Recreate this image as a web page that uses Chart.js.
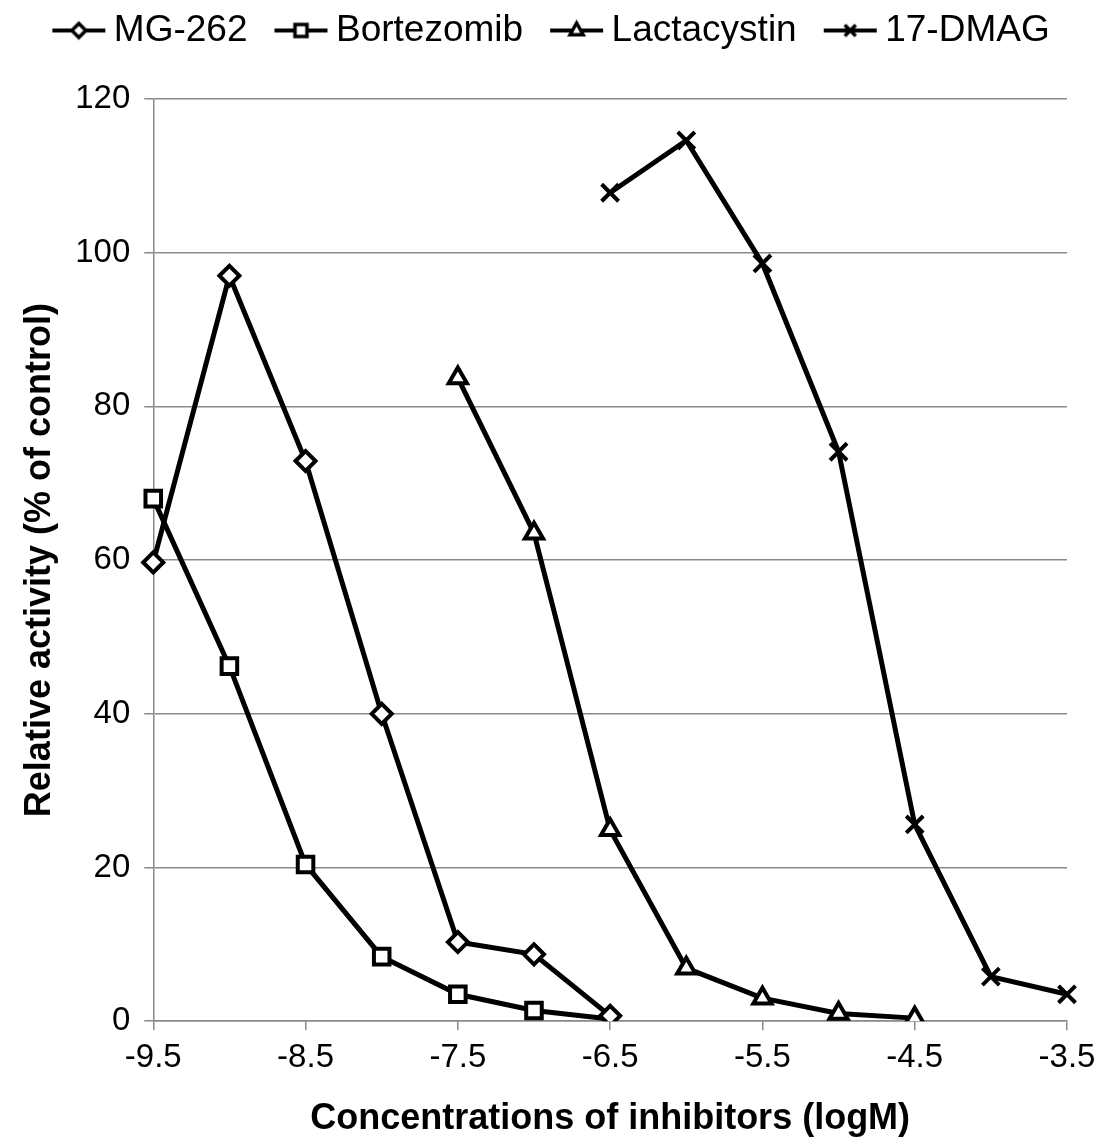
<!DOCTYPE html>
<html>
<head>
<meta charset="utf-8">
<script src="https://cdn.jsdelivr.net/npm/chart.js@4/dist/chart.umd.min.js"></script>
<style>
body{margin:0;background:#fff;}
#wrap{width:1114px;height:1141px;position:relative;}
</style>
</head>
<body>
<div id="wrap"><canvas id="chart"></canvas></div>
<script>
// x categories (log M), labelled every second one
const xLabels = ['-9.5','-9','-8.5','-8','-7.5','-7','-6.5','-6','-5.5','-5','-4.5','-4','-3.5'];
const yTicks = [0,20,40,60,80,100,120];

const seriesNames = ['MG-262','Bortezomib','Lactacystin','17-DMAG'];

const mg262 =      [59.7, 97.0, 72.9, 40.0, 10.3, 8.7, 0.7, null, null, null, null, null, null];
const bortezomib = [68.0, 46.2, 20.4, 8.4, 3.5, 1.4, 0.3, null, null, null, null, null, null];
const lactacystin =[null, null, null, null, 83.7, 63.5, 24.9, 6.9, 3.0, 1.0, 0.4, null, null];
const dmag17 =     [null, null, null, null, null, null, 107.8, 114.6, 98.6, 74.1, 25.6, 5.8, 3.5];

const FONT = "'Liberation Sans', Arial, sans-serif";
const GRID = '#8a8a8a';
const LEGEND_EXTRA = 40;

// draw a marker shape on a 2d context
function drawMarker(ctx, kind, cx, cy, r){
ctx.beginPath();
if(kind==='diamond'){
ctx.moveTo(cx, cy-r);
ctx.lineTo(cx+r, cy);
ctx.lineTo(cx, cy+r);
ctx.lineTo(cx-r, cy);
ctx.closePath();
ctx.fill();
ctx.stroke();
}
else if(kind==='square'){
ctx.rect(cx-r, cy-r, 2*r, 2*r);
ctx.fill();
ctx.stroke();
}
else if(kind==='triangle'){
ctx.moveTo(cx, cy-r);
ctx.lineTo(cx+r*0.87, cy+r*0.55);
ctx.lineTo(cx-r*0.87, cy+r*0.55);
ctx.closePath();
ctx.fill();
ctx.stroke();
}
else{
ctx.moveTo(cx-r, cy-r);
ctx.lineTo(cx+r, cy+r);
ctx.moveTo(cx+r, cy-r);
ctx.lineTo(cx-r, cy+r);
ctx.stroke();
}
}

// legend icon: short line with the marker on it, drawn in the right part
// of a wider transparent canvas so the items get Excel-like spacing
function legendIcon(kind, r){
const c = document.createElement('canvas');
c.width = 88;
c.height = 28;
const ctx = c.getContext('2d');
ctx.strokeStyle = '#000';
ctx.fillStyle = '#fff';
ctx.lineWidth = 4;
ctx.beginPath();
ctx.moveTo(31, 14);
ctx.lineTo(84, 14);
ctx.stroke();
ctx.lineWidth = 3.5;
drawMarker(ctx, kind, 57.5, 14, r);
return c;
}

const icons = [
legendIcon('diamond', 7),
legendIcon('square', 6),
legendIcon('triangle', 7.5),
legendIcon('cross', 5.5)
];

function lineSet(label, data, style, radius){
return {
label: label,
data: data,
borderColor: '#000',
backgroundColor: '#fff',
borderWidth: 5,
pointStyle: style,
pointRadius: radius,
pointBorderWidth: 4,
pointBorderColor: '#000',
pointBackgroundColor: '#fff',
pointHoverRadius: radius,
tension: 0,
spanGaps: false
};
}

const bortSet = lineSet(seriesNames[1], bortezomib, 'rect', 11);
// last bortezomib point has no visible marker
bortSet.pointRadius = ctx => ctx.dataIndex === 6 ? 0 : 11;

// push the plot down under the legend
const legendGap = {
id: 'legendGap',
beforeInit(chart){
const fit = chart.legend.fit;
chart.legend.fit = function(){
fit.bind(chart.legend)();
this.height += LEGEND_EXTRA;
};
}
};

new Chart(document.getElementById('chart'), {
type: 'line',
data: {
labels: xLabels,
datasets: [
lineSet(seriesNames[0], mg262, 'rectRot', 10),
bortSet,
lineSet(seriesNames[2], lactacystin, 'triangle', 10.5),
lineSet(seriesNames[3], dmag17, 'crossRot', 12)
]
},
plugins: [legendGap],
options: {
responsive: true,
maintainAspectRatio: false,
animation: false,
layout: {
padding: {top: 2, left: 18, right: 47, bottom: 0}
},
plugins: {
legend: {
display: true,
position: 'top',
labels: {
usePointStyle: true,
pointStyleWidth: 60,
padding: 10,
color: '#000',
font: {family: FONT, size: 37},
generateLabels: function(chart){
return chart.data.datasets.map((ds, i) => ({
text: ds.label,
pointStyle: icons[i],
datasetIndex: i,
fontColor: '#000',
hidden: false,
lineWidth: 0,
strokeStyle: 'transparent',
fillStyle: 'transparent'
}));
}
}
},
tooltip: {enabled: false}
},
scales: {
x: {
type: 'category',
offset: false,
grid: {
display: true,
drawOnChartArea: false,
drawTicks: true,
tickLength: 9,
lineWidth: 1.5,
color: ctx => (ctx.index % 2 === 0 ? GRID : 'rgba(0,0,0,0)')
},
border: {display: true, color: GRID, width: 1.5},
ticks: {
autoSkip: false,
maxRotation: 0,
padding: 8,
color: '#000',
font: {family: FONT, size: 33},
callback: (v, i) => (i % 2 === 0 ? xLabels[i] : '')
},
title: {
display: true,
text: 'Concentrations of inhibitors (logM)',
color: '#000',
font: {family: FONT, size: 36, weight: 'bold'},
padding: {top: 12, bottom: 0}
}
},
y: {
min: yTicks[0],
max: yTicks[yTicks.length - 1],
grid: {
color: GRID,
lineWidth: 1.5,
tickLength: 9
},
border: {display: true, color: GRID, width: 1.5},
ticks: {
stepSize: 20,
padding: 14,
color: '#000',
font: {family: FONT, size: 33}
},
title: {
display: true,
text: 'Relative activity (% of control)',
color: '#000',
font: {family: FONT, size: 36, weight: 'bold'},
padding: {top: 0, bottom: 0}
}
}
}
}
});
</script>
</body>
</html>
